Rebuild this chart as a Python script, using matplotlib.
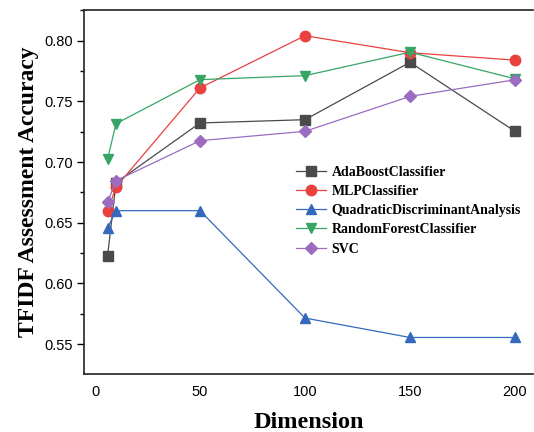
import matplotlib
matplotlib.use("Agg")
import matplotlib.pyplot as plt
from matplotlib.ticker import MultipleLocator

dims = [6, 10, 50, 100, 150, 200]
ada = [0.6227, 0.683, 0.7322, 0.7349, 0.7822, 0.7253]
mlp = [0.6595, 0.6794, 0.7611, 0.8041, 0.7901, 0.7840]
qda = [0.6456, 0.6599, 0.6599, 0.5714, 0.5554, 0.5554]
rf = [0.7025, 0.7316, 0.7679, 0.7712, 0.7905, 0.7686]
svc = [0.6670, 0.6846, 0.7176, 0.7253, 0.7541, 0.7678]

series = [
    ("AdaBoostClassifier", ada, "#4a4a4a", "s"),
    ("MLPClassifier", mlp, "#e8413e", "o"),
    ("QuadraticDiscriminantAnalysis", qda, "#3569bb", "^"),
    ("RandomForestClassifier", rf, "#36a565", "v"),
    ("SVC", svc, "#9b6cc0", "D"),
]

fig = plt.figure(figsize=(5.34, 4.32), dpi=100)
ax = fig.add_axes([84/534, 1-374/432, (533-84)/534, (374-10)/432])

for name, vals, col, mk in series:
    ms = 7.5 if mk != "D" else 6.5
    ax.plot(dims, vals, color=col, marker=mk, markersize=ms, linewidth=0.9, label=name)

ax.set_xlim((84-95)/2.1, (533-95)/2.1)
ax.set_ylim(0.5253, 0.8253)
ax.set_xticks([0, 50, 100, 150, 200])
ax.yaxis.set_major_locator(MultipleLocator(0.05))
ax.yaxis.set_minor_locator(MultipleLocator(0.025))
ax.set_yticklabels([f"{v:.2f}" for v in ax.get_yticks()])
ax.tick_params(axis="y", which="major", direction="out", length=5, width=1, labelsize=10.5, pad=3)
ax.tick_params(axis="y", which="minor", direction="out", length=3, width=1)
ax.tick_params(axis="x", which="major", length=0, labelsize=10.5, pad=8)
for lab in ax.get_xticklabels() + ax.get_yticklabels():
    lab.set_fontfamily("Liberation Sans")
ax.spines["right"].set_visible(False)
for s in ["left", "top", "bottom"]:
    ax.spines[s].set_linewidth(1.2)
    ax.spines[s].set_color("#222222")

ax.set_xlabel("Dimension", fontfamily="Liberation Serif", fontweight="bold", fontsize=17.5, labelpad=9)
ax.set_ylabel("TFIDF Assessment Accuracy", fontfamily="Liberation Serif", fontweight="bold", fontsize=17, labelpad=4)

leg = ax.legend(loc="upper left", bbox_to_anchor=((290-84)/449, 1-(160-10)/364), frameon=False,
                prop={"family": "Liberation Serif", "weight": "bold", "size": 10},
                handlelength=2.2, handletextpad=0.4, labelspacing=0.45, borderaxespad=0)

fig.savefig("out.png", dpi=100)
